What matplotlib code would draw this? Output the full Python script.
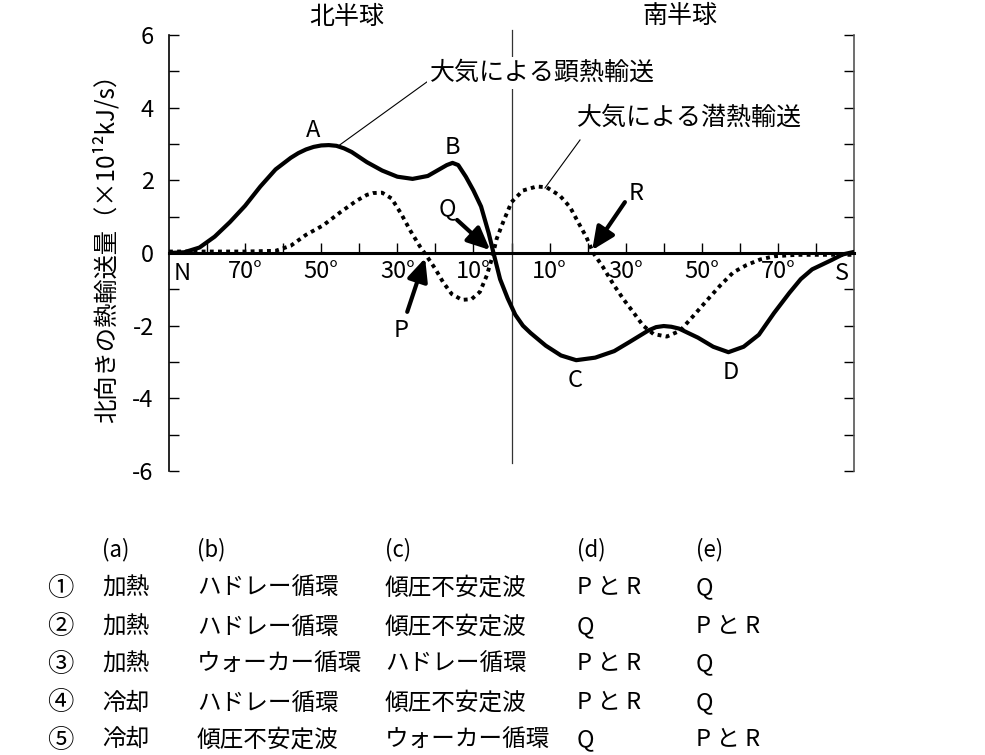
import matplotlib
matplotlib.use("Agg")
import matplotlib.pyplot as plt

plt.rcParams['font.family'] = ['Noto Sans CJK JP', 'DejaVu Sans']
plt.rcParams['axes.unicode_minus'] = False

# ---------------- data ----------------
sens_lat = [90, 86, 82, 78, 74, 70, 66, 62, 58, 56, 54, 52, 50, 48, 46, 44, 42, 38, 34, 30,
            26, 22, 19, 17, 15.5, 14, 12, 10, 8, 6, 4.8, 3, 1, -1, -3, -5, -9, -13, -17, -22,
            -27, -31, -36, -38, -40, -42, -44, -49, -53, -57, -61, -65, -69, -73, -76, -79,
            -84, -87, -90]
sens_val = [0.0, 0.02, 0.15, 0.45, 0.85, 1.3, 1.83, 2.3, 2.62, 2.75, 2.85, 2.92, 2.96, 2.97,
            2.95, 2.88, 2.78, 2.5, 2.27, 2.1, 2.04, 2.12, 2.3, 2.42, 2.48, 2.42, 2.1, 1.72,
            1.28, 0.55, 0.03, -0.72, -1.25, -1.7, -2.0, -2.2, -2.55, -2.82, -2.95, -2.88,
            -2.7, -2.45, -2.13, -2.04, -2.01, -2.03, -2.08, -2.33, -2.58, -2.73, -2.58,
            -2.25, -1.65, -1.1, -0.72, -0.45, -0.2, -0.04, 0.03]

lat_lat = [90, 80, 70, 62, 58, 54, 49.5, 45, 40.7, 38, 36.4, 34, 31.5, 29, 26.5, 24, 22.5,
           20, 18, 15.7, 13, 10.5, 8.3, 6.5, 5.2, 3.9, 2.2, 0, -3, -6.6, -9.2, -12.7, -15.4,
           -17.5, -19.7, -21.5, -24, -26.7, -29.4, -32, -34.6, -37.3, -40.8, -44.3, -47.8,
           -51.3, -54.8, -58.3, -61.8, -65.3, -69, -75, -82, -90]
lat_val = [0.04, 0.04, 0.04, 0.06, 0.2, 0.5, 0.76, 1.12, 1.44, 1.6, 1.65, 1.66, 1.5, 1.08,
           0.6, 0.17, -0.05, -0.44, -0.8, -1.13, -1.29, -1.27, -1.07, -0.62, -0.17, 0.39,
           0.85, 1.4, 1.72, 1.83, 1.81, 1.58, 1.26, 0.85, 0.43, 0.0, -0.38, -0.85, -1.27,
           -1.63, -2.0, -2.23, -2.3, -2.14, -1.73, -1.31, -0.9, -0.53, -0.33, -0.18, -0.09,
           -0.05, -0.05, -0.05]

xtick_pos = [70, 50, 30, 10, -10, -30, -50, -70]
xtick_lab = ['70°', '50°', '30°', '10°', '10°', '30°', '50°', '70°']
ytick_major = [-6, -4, -2, 0, 2, 4, 6]

table_header = ['(a)', '(b)', '(c)', '(d)', '(e)']
table_num = ['①', '②', '③', '④', '⑤']
table_rows = [
    ['加熱', 'ハドレー循環', '傾圧不安定波', 'P と R', 'Q'],
    ['加熱', 'ハドレー循環', '傾圧不安定波', 'Q', 'P と R'],
    ['加熱', 'ウォーカー循環', 'ハドレー循環', 'P と R', 'Q'],
    ['冷却', 'ハドレー循環', '傾圧不安定波', 'P と R', 'Q'],
    ['冷却', '傾圧不安定波', 'ウォーカー循環', 'Q', 'P と R'],
]

# ---------------- figure ----------------
W, H = 985, 755
fig = plt.figure(figsize=(W / 100, H / 100), dpi=100)


def fx(px):
    return px / W


def fy(py):
    return 1 - py / H


ax_l, ax_r, ax_t, ax_b = 169, 854, 35, 471
ax = fig.add_axes([fx(ax_l), fy(ax_b), (ax_r - ax_l) / W, (ax_b - ax_t) / H])
ax.set_xlim(90, -90)
ax.set_ylim(-6, 6)

ax.plot(sens_lat, sens_val, color='black', lw=3.0, solid_capstyle='round',
        solid_joinstyle='round', zorder=4)
ax.plot(lat_lat, lat_val, color='black', lw=2.8, linestyle=(0, (1, 1.1)),
        dash_capstyle='butt', zorder=4)

# spines
ax.spines['top'].set_visible(False)
ax.spines['bottom'].set_position(('data', 0))
ax.spines['bottom'].set_linewidth(2.2)
ax.spines['bottom'].set_zorder(3)
ax.spines['left'].set_linewidth(1.2)
ax.spines['right'].set_linewidth(1.2)
ax.spines['right'].set_color('#555555')

ax.set_xticks(xtick_pos)
ax.set_xticklabels(xtick_lab)
ax.set_xticks([80, 60, 40, 20, 0, -20, -40, -60, -80], minor=True)
ax.tick_params(axis='x', which='both', direction='in', length=7, width=1.0, pad=5,
               labelsize=17)
ax.set_yticks(ytick_major)
ax.set_yticks([-5, -3, -1, 1, 3, 5], minor=True)
ax.tick_params(axis='y', which='both', direction='in', length=7, width=1.0,
               left=True, right=True, labelsize=17, pad=11)

# equator line
ax.plot([0, 0], [6.15, -5.78], color='#333333', lw=0.9, clip_on=False, zorder=2)

# curve labels
lab_font = dict(fontsize=17, ha='center', va='center')
ax.text(52.2, 3.36, 'A', **lab_font)
ax.text(15.6, 2.89, 'B', **lab_font)
ax.text(-16.7, -3.5, 'C', **lab_font)
ax.text(-57.7, -3.3, 'D', **lab_font)
ax.text(29.0, -2.12, 'P', **lab_font)
ax.text(16.9, 1.21, 'Q', **lab_font)
ax.text(-32.7, 1.65, 'R', **lab_font)
fig.text(fx(182), fy(273), 'N', fontsize=17, ha='center', va='center')
fig.text(fx(842), fy(273), 'S', fontsize=17, ha='center', va='center')

# arrows
arr = dict(arrowstyle='-|>,head_length=0.55,head_width=0.25', lw=3.0, color='black',
           shrinkA=0, shrinkB=0, mutation_scale=25)
ax.annotate('', xy=(22.7, -0.14), xytext=(27.4, -1.62), arrowprops=arr, zorder=6)
ax.annotate('', xy=(5.6, 0.08), xytext=(14.3, 0.91), arrowprops=arr, zorder=6)
ax.annotate('', xy=(-21.2, 0.08), xytext=(-29.8, 1.40), arrowprops=arr, zorder=6)

# leader lines
ax.plot([45.85, 22.2], [2.92, 4.71], color='black', lw=0.8, clip_on=False, zorder=3)
ax.plot([-8.8, -18.0], [1.79, 3.11], color='black', lw=0.8, clip_on=False, zorder=3)

fig.text(fx(430), fy(73), '大気による顕熱輸送', fontsize=18, ha='left', va='center',
         bbox=dict(facecolor='white', edgecolor='none', pad=2))
fig.text(fx(577), fy(118), '大気による潜熱輸送', fontsize=18, ha='left', va='center')

fig.text(fx(347), fy(17), '北半球', fontsize=18, ha='center', va='center')
fig.text(fx(680), fy(16), '南半球', fontsize=18, ha='center', va='center')

fig.text(fx(106), fy(242), '北向きの熱輸送量（×10¹²kJ/s）', fontsize=17.5, rotation=90,
         ha='center', va='center')

# ---------------- table ----------------
col_x = [102, 197, 385, 577, 696]
row_y = [588, 627, 664, 703, 740]
for cx, h in zip(col_x, table_header):
    fig.text(fx(cx), fy(550), h, fontsize=16, ha='left', va='center')
for ry, num, row in zip(row_y, table_num, table_rows):
    fig.text(fx(60), fy(ry), num, fontsize=19, ha='center', va='center')
    for cx, cell in zip(col_x, row):
        fig.text(fx(cx), fy(ry), cell, fontsize=17, ha='left', va='center')

fig.savefig('out.png', dpi=100)
